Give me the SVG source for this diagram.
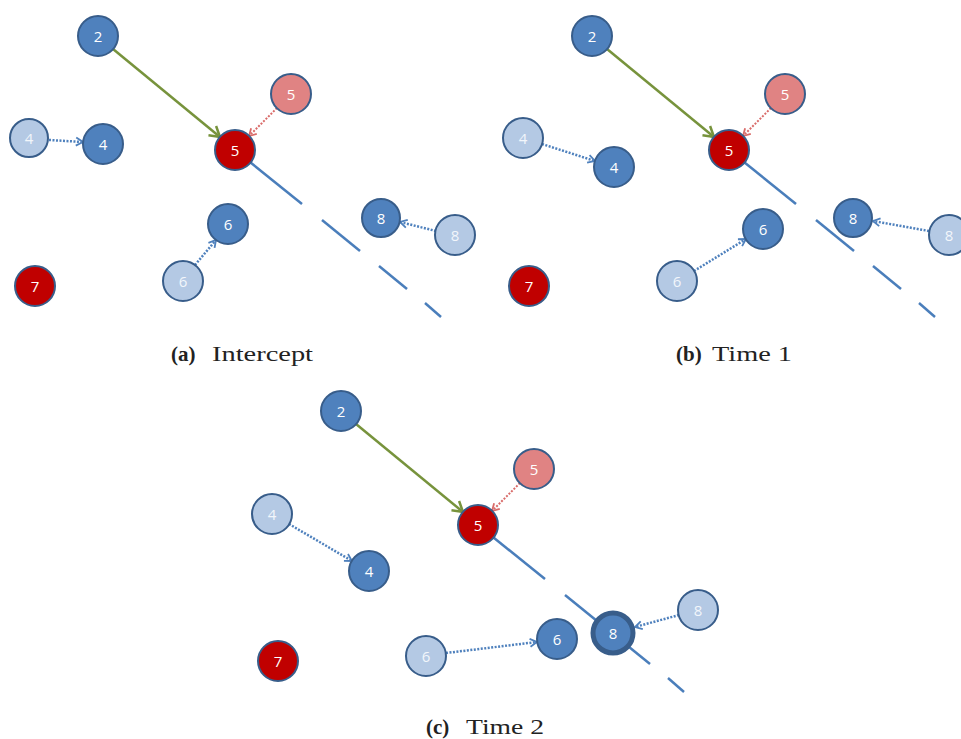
<svg xmlns="http://www.w3.org/2000/svg" width="961" height="739" viewBox="0 0 961 739">
<style>
.dk{fill:#4F81BD;stroke:#385D8A;stroke-width:2}
.lt{fill:#B4C9E4;stroke:#385D8A;stroke-width:2}
.rd{fill:#C00000;stroke:#385D8A;stroke-width:2}
.pk{fill:#E08383;stroke:#385D8A;stroke-width:2}
.big{fill:#4F81BD;stroke:#385D8A;stroke-width:5}
.t{font-family:"Open Sans","Liberation Sans",sans-serif;font-size:15px;fill:#fff;text-anchor:middle;dominant-baseline:central}
.tl{font-family:"Open Sans","Liberation Sans",sans-serif;font-size:15px;fill:#F2F6FB;text-anchor:middle;dominant-baseline:central}
.g{stroke:#77933C;stroke-width:2.5;fill:none;marker-end:url(#ag)}
.p{stroke:#D96B69;stroke-width:2;fill:none;stroke-dasharray:2 1.5;marker-end:url(#ap)}
.b{stroke:#4F81BD;stroke-width:2.5;fill:none;stroke-dasharray:2 1.5;marker-end:url(#ab)}
.ln{stroke:#4A7EBB;stroke-width:2.5;fill:none}
.cap{font-family:"Liberation Serif","DejaVu Serif",serif;font-size:21px;fill:#222}
.capb{font-family:"Liberation Serif","DejaVu Serif",serif;font-size:21px;font-weight:bold;fill:#222}
</style>
<defs>
<marker id="ag" markerUnits="userSpaceOnUse" markerWidth="16" markerHeight="16" refX="12" refY="8" orient="auto" viewBox="0 0 16 16">
<path d="M2,2 L12,8 L2,14" fill="none" stroke="#77933C" stroke-width="2.5"/>
</marker>
<marker id="ap" markerUnits="userSpaceOnUse" markerWidth="12" markerHeight="12" refX="9" refY="6" orient="auto" viewBox="0 0 12 12">
<path d="M2,2 L9,6 L2,10" fill="none" stroke="#D96B69" stroke-width="1.8"/>
</marker>
<marker id="ab" markerUnits="userSpaceOnUse" markerWidth="12" markerHeight="12" refX="9" refY="6" orient="auto" viewBox="0 0 12 12">
<path d="M2,2 L9,6 L2,10" fill="none" stroke="#4F81BD" stroke-width="1.8"/>
</marker>
</defs>
<rect width="961" height="739" fill="#fff"/>
<g id="connectors">
<!-- panel a -->
<line class="g" x1="113" y1="49" x2="220" y2="137"/>
<line class="p" x1="277" y1="108" x2="249" y2="136"/>
<line class="b" x1="49" y1="140" x2="83" y2="142"/>
<line class="b" x1="195" y1="265" x2="216" y2="240"/>
<line class="b" x1="436" y1="231" x2="400" y2="222"/>
<line class="ln" x1="235" y1="150" x2="302" y2="204"/>
<line class="ln" x1="322" y1="220" x2="360" y2="251"/>
<line class="ln" x1="379" y1="266" x2="407" y2="289"/>
<line class="ln" x1="425" y1="303" x2="441" y2="317"/>
<!-- panel b -->
<line class="g" x1="607" y1="49" x2="714" y2="137"/>
<line class="p" x1="771" y1="108" x2="743" y2="136"/>
<line class="b" x1="542" y1="144" x2="595" y2="161"/>
<line class="b" x1="694" y1="271" x2="746" y2="239"/>
<line class="b" x1="929" y1="231" x2="873" y2="221"/>
<line class="ln" x1="729" y1="150" x2="796" y2="204"/>
<line class="ln" x1="816" y1="220" x2="854" y2="251"/>
<line class="ln" x1="873" y1="266" x2="901" y2="289"/>
<line class="ln" x1="919" y1="303" x2="935" y2="317"/>
<!-- panel c -->
<line class="g" x1="356" y1="424" x2="463" y2="512"/>
<line class="p" x1="520" y1="483" x2="492" y2="511"/>
<line class="b" x1="289" y1="524" x2="352" y2="561"/>
<line class="b" x1="446" y1="653" x2="537" y2="642"/>
<line class="b" x1="679" y1="615" x2="635" y2="627"/>
<line class="ln" x1="478" y1="525" x2="545" y2="579"/>
<line class="ln" x1="565" y1="595" x2="650" y2="664"/>
<line class="ln" x1="668" y1="678" x2="684" y2="692"/>
</g>
<!-- panel a nodes -->
<g id="a-n2"><circle class="dk" cx="98" cy="36" r="20"/><text class="t" x="98" y="36">2</text></g>
<g id="a-n5p"><circle class="pk" cx="291" cy="94" r="20"/><text class="t" x="291" y="94">5</text></g>
<g id="a-n5"><circle class="rd" cx="235" cy="150" r="20"/><text class="t" x="235" y="150">5</text></g>
<g id="a-n4l"><circle class="lt" cx="29" cy="138" r="19"/><text class="tl" x="29" y="138">4</text></g>
<g id="a-n4"><circle class="dk" cx="103" cy="144" r="20"/><text class="t" x="103" y="144">4</text></g>
<g id="a-n6"><circle class="dk" cx="228" cy="224" r="20"/><text class="t" x="228" y="224">6</text></g>
<g id="a-n6l"><circle class="lt" cx="183" cy="281" r="20"/><text class="tl" x="183" y="281">6</text></g>
<g id="a-n7"><circle class="rd" cx="35" cy="286" r="20"/><text class="t" x="35" y="286">7</text></g>
<g id="a-n8"><circle class="dk" cx="381" cy="218" r="19"/><text class="t" x="381" y="218">8</text></g>
<g id="a-n8l"><circle class="lt" cx="455" cy="235" r="20"/><text class="tl" x="455" y="235">8</text></g>
<!-- panel b nodes -->
<g id="b-n2"><circle class="dk" cx="592" cy="36" r="20"/><text class="t" x="592" y="36">2</text></g>
<g id="b-n5p"><circle class="pk" cx="785" cy="94" r="20"/><text class="t" x="785" y="94">5</text></g>
<g id="b-n5"><circle class="rd" cx="729" cy="150" r="20"/><text class="t" x="729" y="150">5</text></g>
<g id="b-n4l"><circle class="lt" cx="523" cy="138" r="20"/><text class="tl" x="523" y="138">4</text></g>
<g id="b-n4"><circle class="dk" cx="614" cy="167" r="20"/><text class="t" x="614" y="167">4</text></g>
<g id="b-n6"><circle class="dk" cx="763" cy="229" r="20"/><text class="t" x="763" y="229">6</text></g>
<g id="b-n6l"><circle class="lt" cx="677" cy="281" r="20"/><text class="tl" x="677" y="281">6</text></g>
<g id="b-n7"><circle class="rd" cx="529" cy="286" r="20"/><text class="t" x="529" y="286">7</text></g>
<g id="b-n8"><circle class="dk" cx="853" cy="218" r="19"/><text class="t" x="853" y="218">8</text></g>
<g id="b-n8l"><circle class="lt" cx="949" cy="235" r="20"/><text class="tl" x="949" y="235">8</text></g>
<!-- panel c nodes -->
<g id="c-n2"><circle class="dk" cx="341" cy="411" r="20"/><text class="t" x="341" y="411">2</text></g>
<g id="c-n5p"><circle class="pk" cx="534" cy="469" r="20"/><text class="t" x="534" y="469">5</text></g>
<g id="c-n5"><circle class="rd" cx="478" cy="525" r="20"/><text class="t" x="478" y="525">5</text></g>
<g id="c-n4l"><circle class="lt" cx="272" cy="514" r="20"/><text class="tl" x="272" y="514">4</text></g>
<g id="c-n4"><circle class="dk" cx="369" cy="571" r="20"/><text class="t" x="369" y="571">4</text></g>
<g id="c-n6"><circle class="dk" cx="557" cy="639" r="20"/><text class="t" x="557" y="639">6</text></g>
<g id="c-n6l"><circle class="lt" cx="426" cy="656" r="20"/><text class="tl" x="426" y="656">6</text></g>
<g id="c-n7"><circle class="rd" cx="278" cy="661" r="20"/><text class="t" x="278" y="661">7</text></g>
<g id="c-n8"><circle class="big" cx="613" cy="633" r="20"/><text class="t" x="613" y="633">8</text></g>
<g id="c-n8l"><circle class="lt" cx="698" cy="610" r="20"/><text class="tl" x="698" y="610">8</text></g>
<!-- captions -->
<g id="captions">
<text class="capb" x="171" y="361">(a)</text><text class="cap" x="212" y="361" textLength="101" lengthAdjust="spacingAndGlyphs">Intercept</text>
<text class="capb" x="676" y="361">(b)</text><text class="cap" x="712" y="361" textLength="80" lengthAdjust="spacingAndGlyphs">Time 1</text>
<text class="capb" x="426" y="734">(c)</text><text class="cap" x="466" y="734" textLength="78" lengthAdjust="spacingAndGlyphs">Time 2</text>
</g>
</svg>
